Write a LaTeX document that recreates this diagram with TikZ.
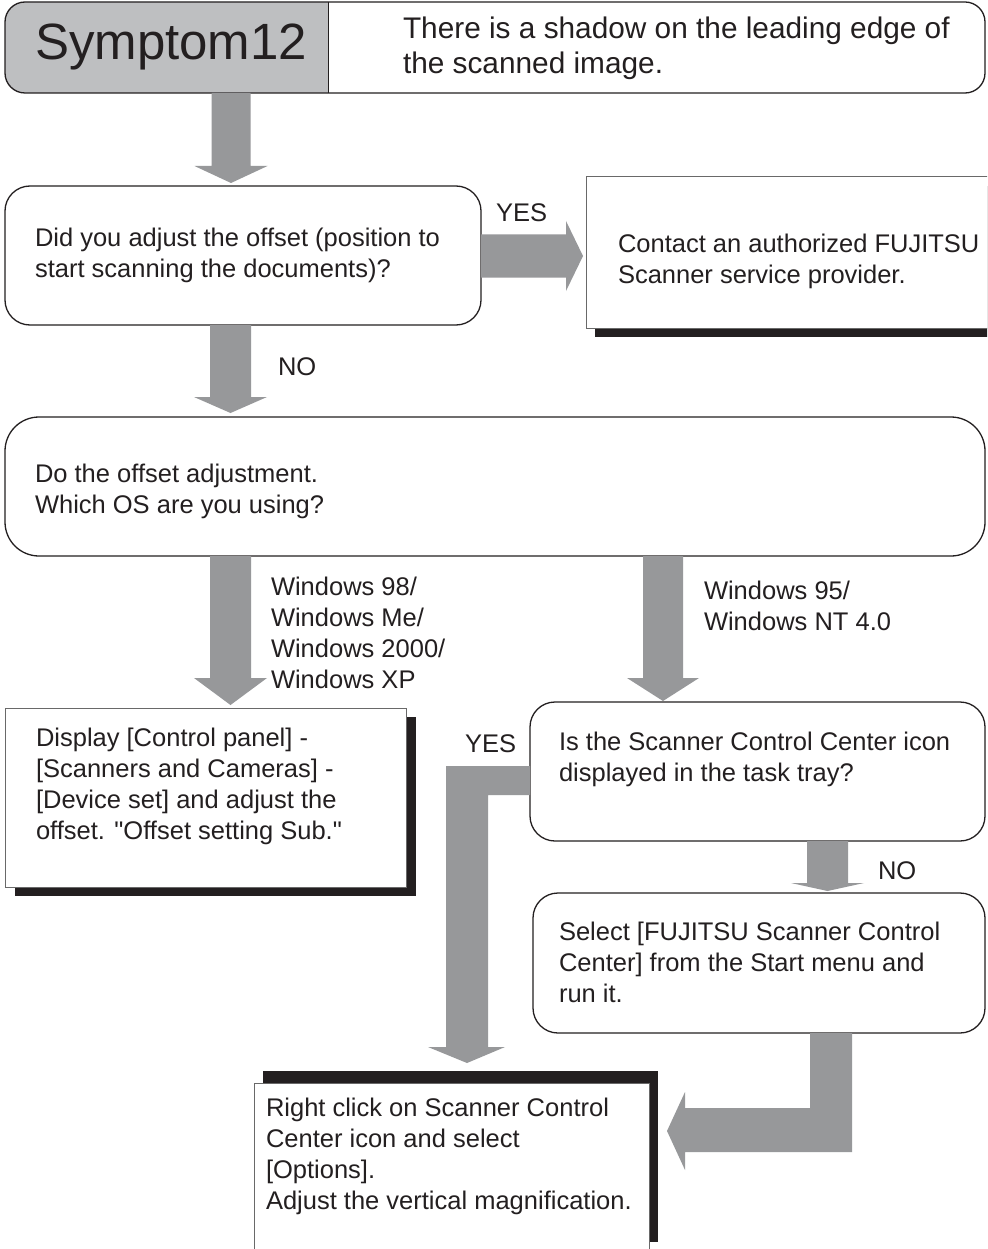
\documentclass[tikz,border=0pt]{standalone}
\usepackage{fontspec}
\setmainfont{Liberation Sans}[Ligatures=TeXOff]
\usetikzlibrary{calc}
\definecolor{arrowgray}{RGB}{151,152,154}
\definecolor{hdrgray}{RGB}{190,191,193}
\definecolor{ink}{RGB}{35,31,32}
\definecolor{rimgray}{RGB}{105,105,105}
\newcommand\fbody{\fontsize{25.5pt}{30.7pt}\selectfont}
\newcommand\ftitle{\fontsize{51pt}{60pt}\selectfont}
\newcommand\fdesc{\fontsize{29.8pt}{35pt}\selectfont}
% #1 start, #2 tip, #3 head length, #4 shaft half width, #5 head half width
\newcommand\fatdown[5]{\fill[arrowgray] let \p1=#1, \p2=#2 in
  (\x1-#4pt,\y1) -- (\x1+#4pt,\y1) -- (\x1+#4pt,\y2+#3pt) -- (\x2+#5pt,\y2+#3pt) --
  (\x2,\y2) -- (\x2-#5pt,\y2+#3pt) -- (\x1-#4pt,\y2+#3pt) -- cycle;}
\newcommand\fatright[5]{\fill[arrowgray] let \p1=#1, \p2=#2 in
  (\x1,\y1+#4pt) -- (\x2-#3pt,\y1+#4pt) -- (\x2-#3pt,\y1+#5pt) -- (\x2,\y1) --
  (\x2-#3pt,\y1-#5pt) -- (\x2-#3pt,\y1-#4pt) -- (\x1,\y1-#4pt) -- cycle;}
\tikzset{
  roundbox/.style={draw=ink, fill=white, line width=1.3pt, rounded corners=#1,
    anchor=north west, inner sep=0pt, outer sep=0pt},
  rectbox/.style={draw=rimgray, fill=white, line width=1pt,
    anchor=north west, inner sep=0pt, outer sep=0pt},
  % multi-line text: the base anchor is the baseline of the LAST line
  txt/.style={anchor=base west, inner sep=0pt, outer sep=0pt, align=left,
    font=\fbody, text=ink},
}
\begin{document}
\begin{tikzpicture}[x=1pt,y=-1pt]
\useasboundingbox (0,0) rectangle (987,1249);
\clip (0,0) rectangle (987,1249);
\fill[white] (0,0) rectangle (987,1249);

% header
\begin{scope}
  \clip (0,0) rectangle (328,100);
  \fill[hdrgray, rounded corners=20pt] (5,2) rectangle (985,93);
\end{scope}
\node[draw=ink, line width=1.3pt, rounded corners=20pt, minimum width=980pt,
  minimum height=91pt, anchor=north west, inner sep=0pt, outer sep=0pt] (hdr) at (5,2) {};
\draw[ink, line width=1pt] (328,0 |- hdr.north) -- (328,0 |- hdr.south);
\node[txt, font=\ftitle] (ttl) at (35,60) {Symptom12};
\node[txt, font=\fdesc] (dsc) at (403,74) {There is a shadow on the leading edge of\\the scanned image.};

% question 1
\node[roundbox=25pt, minimum width=476pt, minimum height=139pt] (q1) at (5,186) {};
\node[txt] (q1t) at (35,277.5) {Did you adjust the offset (position to\\start scanning the documents)?};

% contact box
\fill[ink] (595,186) rectangle (1000,337);
\node[rectbox, minimum width=420pt, minimum height=151pt] (ct) at (586,177) {};
\node[txt] (ctt) at (618,283) {Contact an authorized FUJITSU\\Scanner service provider.};

% offset adjustment box
\node[roundbox=34pt, minimum width=980pt, minimum height=139pt] (b4) at (5,417) {};
\node[txt] (b4t) at (35,513) {Do the offset adjustment.\\Which OS are you using?};

% display box
\fill[ink] (15,717) rectangle (416,896);
\node[rectbox, minimum width=401pt, minimum height=179pt] (dsp) at (5,708) {};
\node[txt] (dspt) at (36,839) {Display [Control panel] -\\{}[Scanners and Cameras] -\\{}[Device set] and adjust the\\offset. "Offset setting Sub."};

% question 2
\node[roundbox=25pt, minimum width=455pt, minimum height=139pt] (q2) at (530,702) {};
\node[txt] (q2t) at (559,781) {Is the Scanner Control Center icon\\displayed in the task tray?};

% select box
\node[roundbox=25pt, minimum width=452pt, minimum height=140pt] (sel) at (533,893) {};
\node[txt] (selt) at (559,1002) {Select [FUJITSU Scanner Control\\Center] from the Start menu and\\run it.};

% right click box
\fill[ink] (263,1071) rectangle (658,1242);
\node[rectbox, minimum width=395pt, minimum height=220pt] (rc) at (254,1083) {};
\node[txt] (rct) at (266,1209) {Right click on Scanner Control\\Center icon and select\\{}[Options].\\Adjust the vertical magnification.};

% arrows
\fatdown{(231,0 |- hdr.south)}{($(231,0 |- q1.north)+(0,-3)$)}{17}{19.5}{36.5}
\fatdown{(230.5,0 |- q1.south)}{($(230.5,0 |- b4.north)+(0,-4)$)}{16}{20.5}{36.5}
\fatdown{(230.5,0 |- b4.south)}{($(230.5,0 |- dsp.north)+(0,-3)$)}{27}{20.5}{36.5}
\fatdown{(663,0 |- b4.south)}{($(663,0 |- q2.north)+(0,-1)$)}{23}{20}{36}
\fatdown{(827.5,0 |- q2.south)}{($(827.5,0 |- sel.north)+(0,-2)$)}{8}{20.5}{36.5}
\fatright{(q1.east |- 0,256)}{($(ct.west |- 0,256)+(-3,0)$)}{17}{21.5}{35}
\fill[arrowgray] (q2.west |- 0,766) -- (446,766) -- (446,1047) -- (428,1047) -- (467,1063)
  -- (505,1047) -- (488,1047) -- (488,795) -- (q2.west |- 0,795) -- cycle;
\fill[arrowgray] (810,0 |- sel.south) -- (852,0 |- sel.south) -- (852,1152) -- (685,1152)
  -- (685,1170) -- ($(rc.east |- 0,1131)+(18,0)$) -- (685,1092) -- (685,1108) -- (810,1108) -- cycle;

% branch labels
\node[txt] (yes1) at (496,222) {YES};
\node[txt] (no1) at (278,375) {NO};
\node[txt] (w98) at (271,688) {Windows 98/\\Windows Me/\\Windows 2000/\\Windows XP};
\node[txt] (w95) at (704,630) {Windows 95/\\Windows NT 4.0};
\node[txt] (yes2) at (465,752) {YES};
\node[txt] (no2) at (878,879) {NO};
\end{tikzpicture}
\end{document}
